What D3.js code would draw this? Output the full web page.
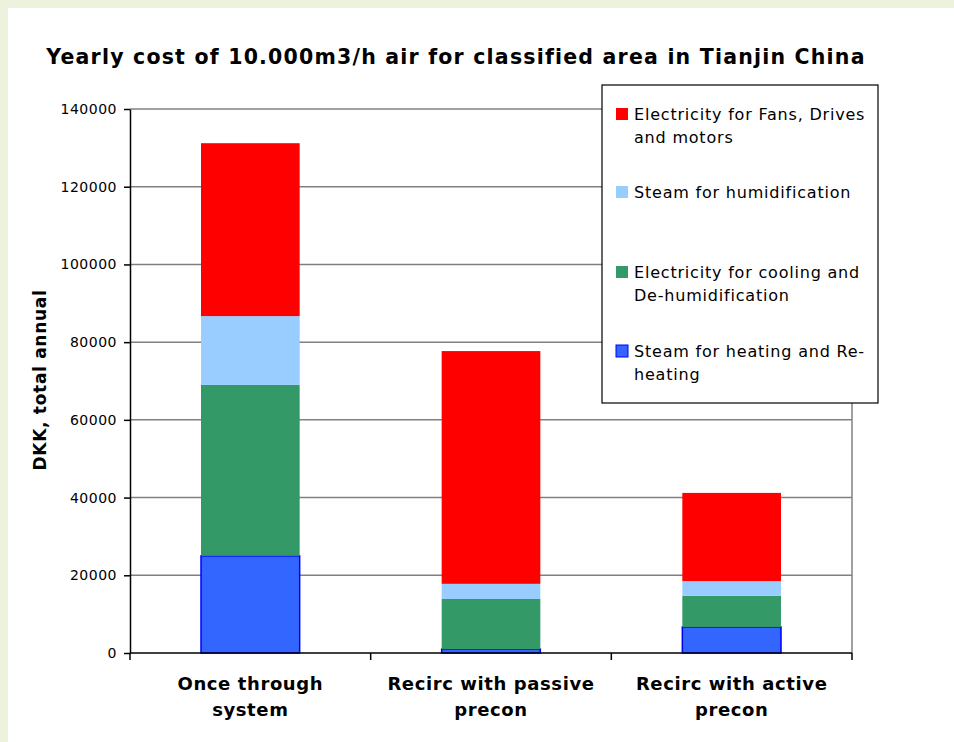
<!DOCTYPE html>
<html>
<head>
<meta charset="utf-8">
<script src="https://cdn.jsdelivr.net/npm/d3@7"></script>
<style>
body { margin: 0; background: #edf2df; }
svg { display: block; }
</style>
</head>
<body>
<svg id="chart" width="954" height="742"></svg>
<script>
var categories = [["Once through", "system"], ["Recirc with passive", "precon"], ["Recirc with active", "precon"]];
var seriesNames = ["Steam for heating and Re-heating", "Electricity for cooling and De-humidification", "Steam for humidification", "Electricity for Fans, Drives and motors"];
var legendLines = [["Electricity for Fans, Drives", "and motors"], ["Steam for humidification"], ["Electricity for cooling and", "De-humidification"], ["Steam for heating and Re-", "heating"]];
var heating = [25000, 1000, 6700];
var cooling = [44000, 12900, 8000];
var humid = [17700, 3900, 3800];
var fans = [44500, 59900, 22700];
var yTicks = [0, 20000, 40000, 60000, 80000, 100000, 120000, 140000];
var colors = ["#3366ff", "#339966", "#99ccff", "#ff0000"];

var font = "DejaVu Sans, Verdana, sans-serif";
var svg = d3.select("#chart"),
	pl = 130, pr = 852, pt = 109, pb = 653;

svg.append("rect")
	.attr("x", 8).attr("y", 8)
	.attr("width", 946).attr("height", 734)
	.attr("fill", "#fff");

var x = d3.scaleBand()
	.domain(d3.range(categories.length))
	.range([pl, pr])
	.paddingInner(0.59)
	.paddingOuter(0.295);

var y = d3.scaleLinear()
	.domain([0, 140000])
	.range([pb, pt]);

// gridlines
svg.append("g")
	.selectAll("line")
	.data(yTicks.slice(1))
	.enter()
	.append("line")
	.attr("x1", pl).attr("x2", pr)
	.attr("y1", function(d) { return y(d); })
	.attr("y2", function(d) { return y(d); })
	.attr("stroke", "#808080")
	.attr("stroke-width", 1.5);

svg.append("line")
	.attr("x1", pr).attr("x2", pr)
	.attr("y1", pt).attr("y2", pb)
	.attr("stroke", "#808080")
	.attr("stroke-width", 1.5);

// stacked bars
var table = categories.map(function(c, i) {
	return { i: i, s0: heating[i], s1: cooling[i], s2: humid[i], s3: fans[i] };
});
var stack = d3.stack().keys(["s0", "s1", "s2", "s3"])(table);

svg.append("g")
	.selectAll("g")
	.data(stack)
	.enter()
	.append("g")
	.attr("fill", function(d, k) { return colors[k]; })
	.attr("stroke", function(d, k) { return k == 0 ? "#0000ff" : "none"; })
	.attr("stroke-width", 1.5)
	.selectAll("rect")
	.data(function(d) { return d; })
	.enter()
	.append("rect")
	.attr("x", function(d) { return x(d.data.i); })
	.attr("width", x.bandwidth())
	.attr("y", function(d) { return y(d[1]); })
	.attr("height", function(d) { return y(d[0]) - y(d[1]); });

// axes
var yAxis = svg.append("g")
	.attr("transform", "translate(" + pl + ",0)")
	.call(d3.axisLeft(y).tickValues(yTicks).tickFormat(d3.format("d")).tickSize(6).tickSizeOuter(0));
yAxis.select(".domain").attr("stroke", "#000").attr("stroke-width", 1.5);
yAxis.selectAll(".tick line").attr("stroke", "#000").attr("stroke-width", 1.5);
yAxis.selectAll(".tick text")
	.attr("x", -13)
	.attr("font-family", font)
	.attr("font-size", 14)
	.attr("letter-spacing", 0.5)
	.attr("fill", "#000");

var xa = svg.append("g").attr("transform", "translate(0," + pb + ")");
xa.append("line")
	.attr("x1", pl).attr("x2", pr)
	.attr("stroke", "#000").attr("stroke-width", 1.5);
xa.selectAll(".xt")
	.data(d3.range(categories.length + 1))
	.enter()
	.append("line")
	.attr("x1", function(d) { return pl + d * x.step(); })
	.attr("x2", function(d) { return pl + d * x.step(); })
	.attr("y1", 0).attr("y2", 7)
	.attr("stroke", "#000").attr("stroke-width", 1.5);

xa.selectAll(".xl")
	.data(categories)
	.enter()
	.append("text")
	.attr("text-anchor", "middle")
	.attr("font-family", font)
	.attr("font-weight", "bold")
	.attr("font-size", 18)
	.attr("letter-spacing", 0.6)
	.attr("transform", function(d, i) { return "translate(" + (x(i) + x.bandwidth() / 2) + ",0)"; })
	.selectAll("tspan")
	.data(function(d) { return d; })
	.enter()
	.append("tspan")
	.attr("x", 0)
	.attr("y", function(d, j) { return 37 + j * 26; })
	.text(function(d) { return d; });

// titles
svg.append("text")
	.attr("x", 456).attr("y", 64)
	.attr("text-anchor", "middle")
	.attr("font-family", font)
	.attr("font-weight", "bold")
	.attr("font-size", 20.5)
	.attr("letter-spacing", 1.2)
	.text("Yearly cost of 10.000m3/h air for classified area in Tianjin China");

svg.append("text")
	.attr("transform", "translate(46,380) rotate(-90)")
	.attr("text-anchor", "middle")
	.attr("font-family", font)
	.attr("font-weight", "bold")
	.attr("font-size", 17)
	.attr("letter-spacing", 0.7)
	.text("DKK, total annual");

// legend
var lg = svg.append("g").attr("transform", "translate(602,85)");
lg.append("rect")
	.attr("width", 276).attr("height", 318)
	.attr("fill", "#fff").attr("stroke", "#000").attr("stroke-width", 1.2);
var legendY = [35, 113, 193, 272];
var items = lg.selectAll(".li")
	.data(legendLines)
	.enter()
	.append("g")
	.attr("transform", function(d, i) { return "translate(0," + legendY[i] + ")"; });
items.append("rect")
	.attr("x", 14).attr("y", -12)
	.attr("width", 12).attr("height", 12)
	.attr("fill", function(d, i) { return colors[3 - i]; })
	.attr("stroke", function(d, i) { return i == 3 ? "#0000ff" : "none"; });
items.append("text")
	.attr("font-family", font)
	.attr("font-size", 16)
	.attr("letter-spacing", 0.8)
	.selectAll("tspan")
	.data(function(d) { return d; })
	.enter()
	.append("tspan")
	.attr("x", 32)
	.attr("y", function(d, j) { return j * 23; })
	.text(function(d) { return d; });
</script>
</body>
</html>
